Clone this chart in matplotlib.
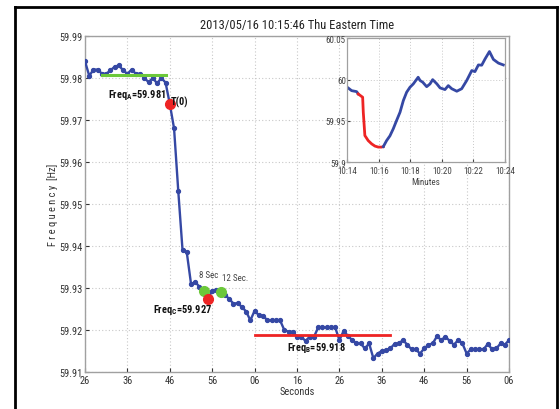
import matplotlib
matplotlib.use("Agg")
import matplotlib.pyplot as plt
from matplotlib.lines import Line2D
import numpy as np

plt.rcParams['font.family'] = ['Roboto Condensed', 'Open Sans Condensed', 'Liberation Sans Narrow', 'Liberation Sans']

# ---------------- data ----------------
seconds = list(range(0, 101))
freq = [59.9840, 59.9805, 59.9820, 59.9820, 59.9810, 59.9810, 59.9818, 59.9827, 59.9830, 59.9818,
        59.9810, 59.9820, 59.9810, 59.9810, 59.9800, 59.9790, 59.9800, 59.9787, 59.9800, 59.9789,
        59.9738, 59.9680, 59.9530, 59.9390, 59.9385, 59.9310, 59.9314, 59.9303, 59.9293, 59.9274,
        59.9294, 59.9296, 59.9291, 59.9284, 59.9274, 59.9263, 59.9264, 59.9255, 59.9244, 59.9223,
        59.9246, 59.9235, 59.9234, 59.9223, 59.9223, 59.9223, 59.9223, 59.9200, 59.9196, 59.9196,
        59.9184, 59.9184, 59.9174, 59.9184, 59.9184, 59.9206, 59.9206, 59.9206, 59.9206, 59.9206,
        59.9176, 59.9198, 59.9186, 59.9176, 59.9168, 59.9168, 59.9156, 59.9168, 59.9133, 59.9144,
        59.9150, 59.9152, 59.9156, 59.9167, 59.9168, 59.9176, 59.9165, 59.9154, 59.9154, 59.9144,
        59.9156, 59.9165, 59.9168, 59.9185, 59.9176, 59.9184, 59.9174, 59.9165, 59.9176, 59.9168,
        59.9144, 59.9154, 59.9154, 59.9154, 59.9154, 59.9167, 59.9154, 59.9156, 59.9168, 59.9165,
        59.9176]

xtick_pos = [0, 10, 20, 30, 40, 50, 60, 70, 80, 90, 100]
xtick_labels = ['26', '36', '46', '56', '06', '16', '26', '36', '46', '56', '06']
ytick_pos = [59.91, 59.92, 59.93, 59.94, 59.95, 59.96, 59.97, 59.98, 59.99]

freq_a = 59.981
freq_a_span = [4, 19]
freq_a_level = 59.9807
freq_b = 59.918
freq_b_span = [40, 72]
freq_b_level = 59.9188
freq_c = 59.927

t0_idx = 20
green_idx = [28, 32]
red_c_idx = 29

# inset data (minutes after 10:14)
inset_min = [0.0, 0.28, 0.6, 0.7, 0.98, 1.02, 1.12, 1.33, 1.55, 1.76, 1.97, 2.18, 2.29,
             2.5, 2.71, 2.92, 3.13, 3.35, 3.56, 3.77, 3.98, 4.19, 4.5, 4.62, 4.79, 5.04,
             5.25, 5.42, 5.68, 5.89, 6.2, 6.41, 6.63, 6.95, 7.26, 7.58, 7.9, 8.1, 8.32,
             8.53, 8.74, 9.02, 9.27, 9.59, 9.9]
inset_val = [59.9908, 59.9867, 59.9855, 59.9827, 59.9787, 59.9606, 59.9324, 59.9263, 59.9223,
             59.9196, 59.9184, 59.9184, 59.9190, 59.9263, 59.9320, 59.9405, 59.9505, 59.9606,
             59.9747, 59.9848, 59.9908, 59.9948, 60.0029, 59.9990, 59.9969, 59.9915, 59.9948,
             60.0000, 59.9950, 59.9900, 59.9880, 59.9928, 59.9890, 59.9860, 59.9890, 59.9990,
             60.0110, 60.0097, 60.0178, 60.0175, 60.0250, 60.0340, 60.0245, 60.0200, 60.0178]
inset_red = [3, 12]  # index range shown in red
inset_xticks = [0, 2, 4, 6, 8, 10]
inset_xlabels = ['10:14', '10:16', '10:18', '10:20', '10:22', '10:24']
inset_yticks = [59.9, 59.95, 60.0, 60.05]
inset_ylabels = ['59.9', '59.95', '60', '60.05']

title = '2013/05/16 10:15:46 Thu Eastern Time'

# ---------------- figure ----------------
blue = '#3548a4'
green = '#6cc83a'
red = '#ee2424'
gridc = '#c8c8c8'

fig = plt.figure(figsize=(5.6, 4.1), dpi=100)
ax = fig.add_axes([0.1518, 0.0902, 0.7572, 0.8196])

ax.plot(seconds, freq, color=blue, lw=1.7, marker='o', ms=2.8, mfc=blue, mec=blue, zorder=3)
ax.plot(freq_a_span, [freq_a_level, freq_a_level], color=green, lw=2.2, zorder=4)
ax.plot(freq_b_span, [freq_b_level, freq_b_level], color=red, lw=2.0, zorder=4)
ax.plot([seconds[t0_idx]], [freq[t0_idx]], 'o', color=red, ms=7, zorder=5)
ax.plot([seconds[i] for i in green_idx], [freq[i] for i in green_idx], 'o', color=green, ms=7, zorder=5)
ax.plot([seconds[red_c_idx]], [freq[red_c_idx]], 'o', color=red, ms=7, zorder=5)

ax.set_xlim(0, 100)
ax.set_ylim(59.91, 59.99)
ax.set_xticks(xtick_pos)
ax.set_xticklabels(xtick_labels)
ax.set_yticks(ytick_pos)
ax.set_yticklabels(['%.2f' % v for v in ytick_pos])
ax.tick_params(labelsize=7.5, colors='#333333', direction='in', length=3, pad=2)
ax.grid(True, linestyle=(0, (1, 2)), color=gridc, lw=0.8)
for s in ax.spines.values():
    s.set_color('#a0a0a0')
    s.set_linewidth(1.0)

ax.set_title(title, fontsize=9, color='#222222', pad=6)
ax.set_xlabel('Seconds', fontsize=7.5, color='#333333', labelpad=1)
ax.set_ylabel('F r e q u e n c y  [Hz]', fontsize=7.5, color='#333333', labelpad=1)

tk = dict(fontsize=7.5, fontweight='bold', color='#111111', va='center', ha='left', zorder=6)
ax.text(5.4, 59.9763, 'Freq$_{\\mathregular{A}}$=%.3f' % freq_a, **tk)
ax.text(20.3, 59.9745, 'T(0)', **tk)
ax.text(16.0, 59.9251, 'Freq$_{\\mathregular{C}}$=%.3f' % freq_c, **tk)
ax.text(47.6, 59.9160, 'Freq$_{\\mathregular{B}}$=%.3f' % freq_b, **tk)
ax.text(26.9, 59.9332, '8 Sec', fontsize=6.5, color='#444444', va='center', ha='left', zorder=6)
ax.text(32.2, 59.9324, '12 Sec.', fontsize=6.5, color='#444444', va='center', ha='left', zorder=6)

# ---------------- inset ----------------
ia = fig.add_axes([0.620, 0.6017, 0.2816, 0.3024])
ia.set_facecolor('white')
ia.plot(inset_min[:inset_red[0] + 1], inset_val[:inset_red[0] + 1], color=blue, lw=2)
ia.plot(inset_min[inset_red[0]:inset_red[1] + 1], inset_val[inset_red[0]:inset_red[1] + 1], color=red, lw=2)
ia.plot(inset_min[inset_red[1]:], inset_val[inset_red[1]:], color=blue, lw=2)
ia.set_xlim(0, 10)
ia.set_ylim(59.9, 60.05)
ia.set_xticks(inset_xticks)
ia.set_xticklabels(inset_xlabels)
ia.set_yticks(inset_yticks)
ia.set_yticklabels(inset_ylabels)
ia.tick_params(labelsize=6.5, colors='#444444', direction='in', length=2, pad=1)
ia.tick_params(axis='x', pad=3)
ia.grid(True, linestyle=(0, (1, 2)), color=gridc, lw=0.7)
for s in ia.spines.values():
    s.set_color('#a0a0a0')
    s.set_linewidth(0.9)
ia.set_xlabel('Minutes', fontsize=6.5, color='#444444', labelpad=1)

# ---------------- outer frame ----------------
L, T, R = 15 / 560, 1 - 8 / 410, 557 / 560
fig.add_artist(Line2D([L, L], [-0.02, T], transform=fig.transFigure, color='black', lw=2))
fig.add_artist(Line2D([L, R], [T, T], transform=fig.transFigure, color='black', lw=2))
fig.add_artist(Line2D([R, R], [-0.02, T], transform=fig.transFigure, color='black', lw=2))

fig.savefig('out.png', dpi=100)
